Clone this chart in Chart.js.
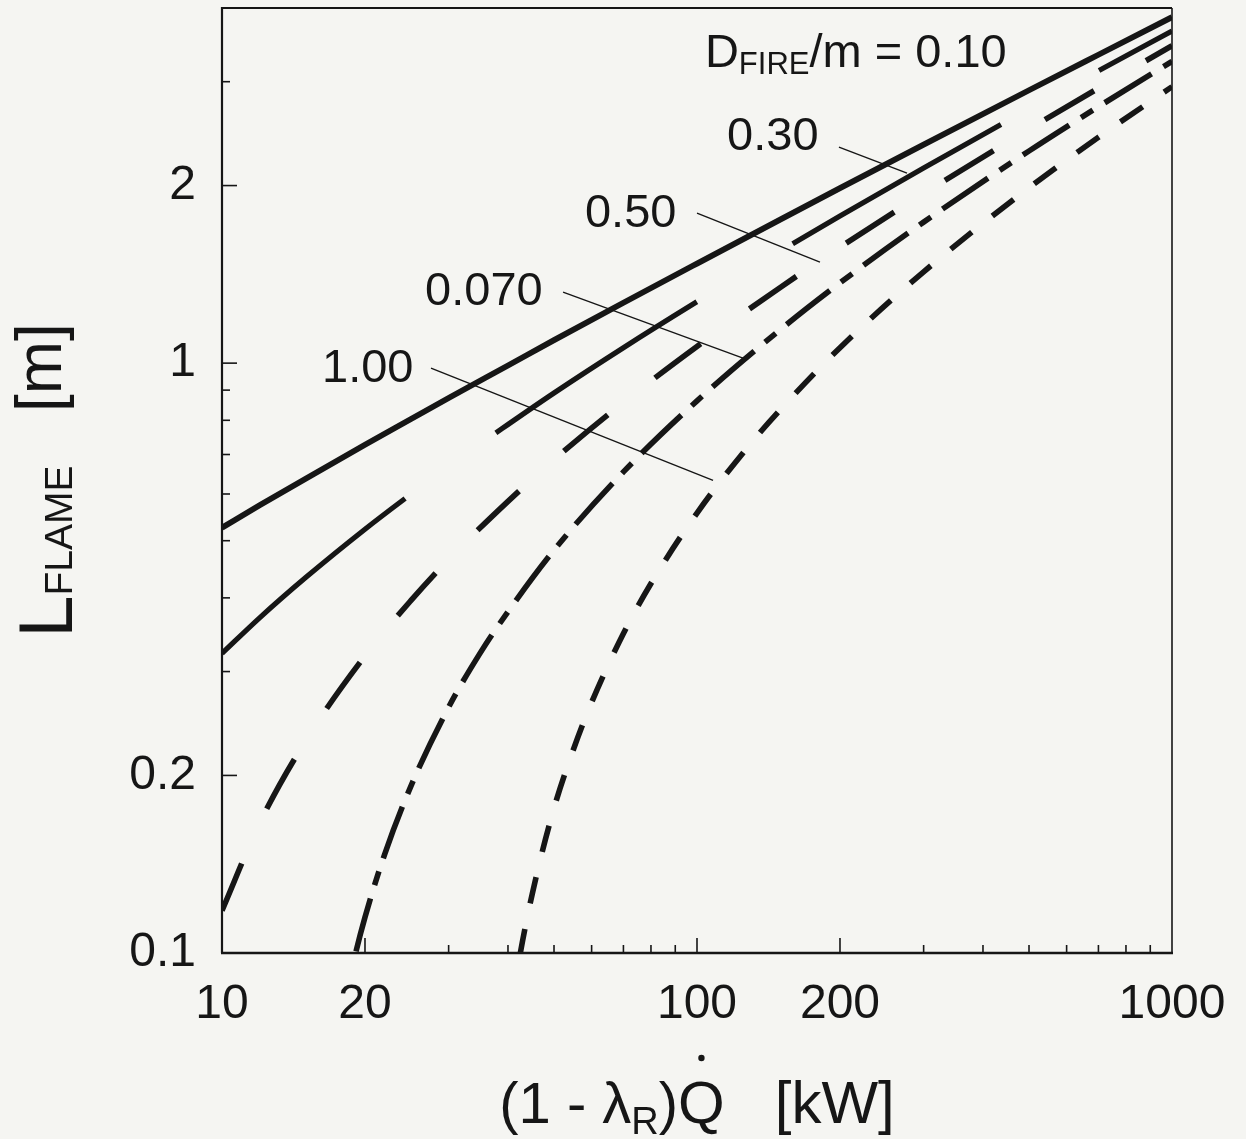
<!DOCTYPE html>
<html>
<head>
<meta charset="utf-8">
<script src="https://cdn.jsdelivr.net/npm/chart.js@4.4.1/dist/chart.umd.min.js"></script>
<style>
  html, body { margin: 0; padding: 0; background: #f5f5f2; }
  #wrap { width: 1246px; height: 1139px; }
</style>
</head>
<body>
<div id="wrap"><canvas id="chart" width="1246" height="1139"></canvas></div>
<script>
// heat release (1 - lambda_R) Q in kW, and flame height in m
const heatRelease = [10, 12, 15, 20, 25, 30, 40, 50, 70, 100, 150, 200, 300, 500, 700, 1000];
const flameD010 = [0.526, 0.574, 0.637, 0.727, 0.804, 0.873, 0.991, 1.094, 1.266, 1.475, 1.753, 1.980, 2.346, 2.901, 3.333, 3.860];
const flameD030 = [0.322, 0.370, 0.433, 0.523, 0.600, 0.669, 0.787, 0.890, 1.062, 1.271, 1.549, 1.776, 2.142, 2.697, 3.129, 3.656];
const flameD050 = [0.118, 0.166, 0.229, 0.319, 0.396, 0.465, 0.583, 0.686, 0.858, 1.067, 1.345, 1.572, 1.938, 2.493, 2.925, 3.452];

const heatReleaseD070 = [18, 19, 20, 22, 25, 30, 35, 40, 50, 70, 100, 150, 200, 300, 500, 700, 1000];
const flameD070 = [0.080, 0.098, 0.115, 0.147, 0.192, 0.261, 0.323, 0.379, 0.482, 0.654, 0.863, 1.141, 1.368, 1.734, 2.289, 2.721, 3.248];

const heatReleaseD100 = [40, 42, 45, 50, 55, 60, 70, 80, 100, 130, 150, 200, 300, 500, 700, 1000];
const flameD100 = [0.073, 0.095, 0.126, 0.176, 0.222, 0.266, 0.348, 0.423, 0.557, 0.732, 0.835, 1.062, 1.428, 1.983, 2.415, 2.942];

// axis ticks
const xTickValues = [10, 20, 30, 40, 50, 60, 70, 80, 90, 100, 200, 300, 400, 500, 600, 700, 800, 900, 1000];
const xLabelValues = [10, 20, 100, 200, 1000];
const yTickValues = [0.1, 0.2, 0.3, 0.4, 0.5, 0.6, 0.7, 0.8, 0.9, 1, 2, 3];
const yLabelValues = [0.1, 0.2, 1, 2];

const ink = '#161616';
const font = '"Liberation Sans", Arial, Helvetica, sans-serif';

// curve labels: text runs anchored at [Q, L] (left, baseline), leaders from/to [Q, L]
const curveLabels = [
  { at: [103.9, 3.175], parts: [{ t: 'D', s: 47 }, { t: 'FIRE', s: 31, dy: 7 }, { t: '/m = 0.10', s: 47 }] },
  { at: [115.7, 2.296], parts: [{ t: '0.30', s: 47 }], leader: [[199.0, 2.323], [276.8, 2.099]] },
  { at: [58.1, 1.700], parts: [{ t: '0.50', s: 47 }], leader: [[100, 1.796], [181.5, 1.483]] },
  { at: [26.76, 1.254], parts: [{ t: '0.070', s: 47 }], leader: [[52.24, 1.319], [125.0, 1.020]] },
  { at: [16.24, 0.9286], parts: [{ t: '1.00', s: 47 }], leader: [[27.54, 0.981], [108.1, 0.633]] }
];

function pts(xs, ys) {
  return xs.map((q, i) => ({ x: q, y: ys[i] }));
}

function drawRun(ctx, parts, x, y) {
  parts.forEach(p => {
    ctx.font = p.s + 'px ' + font;
    ctx.fillText(p.t, x, y + (p.dy || 0));
    x += ctx.measureText(p.t).width;
  });
  return x;
}

function runWidth(ctx, parts) {
  let w = 0;
  parts.forEach(p => {
    ctx.font = p.s + 'px ' + font;
    w += ctx.measureText(p.t).width;
  });
  return w;
}

const decor = {
  id: 'decor',
  beforeDraw(chart) {
    const { ctx, width, height } = chart;
    ctx.save();
    ctx.fillStyle = '#f5f5f2';
    ctx.fillRect(0, 0, width, height);
    ctx.restore();
  },
  afterDraw(chart) {
    const { ctx, chartArea: a, scales: { x, y } } = chart;
    const seg = (w, x1, y1, x2, y2) => {
      ctx.lineWidth = w;
      ctx.beginPath();
      ctx.moveTo(x1, y1);
      ctx.lineTo(x2, y2);
      ctx.stroke();
    };
    ctx.save();
    ctx.strokeStyle = ink;
    ctx.fillStyle = ink;
    ctx.lineCap = 'butt';

    // frame
    seg(2.6, a.left - 1, a.bottom, a.right + 1, a.bottom);
    seg(2.2, a.left, a.top - 1, a.left, a.bottom);
    seg(1.8, a.left, a.top, a.right, a.top);
    seg(1.6, a.right, a.top, a.right, a.bottom);

    // inward ticks
    xTickValues.forEach(v => {
      if (v === 10 || v === 1000) return;
      const px = x.getPixelForValue(v);
      seg(1.6, px, a.bottom, px, a.bottom - (xLabelValues.includes(v) ? 15 : 8));
    });
    yTickValues.forEach(v => {
      if (v === 0.1) return;
      const py = y.getPixelForValue(v);
      seg(1.6, a.left, py, a.left + (yLabelValues.includes(v) ? 15 : 8), py);
    });

    // curve labels and leader lines
    ctx.textBaseline = 'alphabetic';
    ctx.textAlign = 'left';
    curveLabels.forEach(c => {
      drawRun(ctx, c.parts, x.getPixelForValue(c.at[0]), y.getPixelForValue(c.at[1]));
      if (c.leader) {
        const [p, q] = c.leader;
        seg(1.4, x.getPixelForValue(p[0]), y.getPixelForValue(p[1]),
                 x.getPixelForValue(q[0]), y.getPixelForValue(q[1]));
      }
    });

    // x title: (1 - lambda_R) Q-dot  [kW]
    const xt = [{ t: '(1 - λ', s: 58 }, { t: 'R', s: 38, dy: 11 }, { t: ')', s: 58 }];
    const qPart = [{ t: 'Q', s: 60 }];
    const tail = [{ t: '   [kW]', s: 60 }];
    const total = runWidth(ctx, xt) + runWidth(ctx, qPart) + runWidth(ctx, tail);
    const base = 1123;
    let cx = (a.left + a.right) / 2 - total / 2;
    cx = drawRun(ctx, xt, cx, base);
    const qw = runWidth(ctx, qPart);
    drawRun(ctx, qPart, cx, base);
    ctx.beginPath();
    ctx.arc(cx + qw / 2, base - 65, 3.2, 0, Math.PI * 2);
    ctx.fill();
    drawRun(ctx, tail, cx + qw, base);

    // y title: L_FLAME  [m]
    const yt = [{ t: 'L', s: 76 }, { t: 'FLAME', s: 39 }, { t: '   [m]', s: 64, dy: -11 }];
    const yw = runWidth(ctx, yt);
    ctx.translate(72, (a.top + a.bottom) / 2 + yw / 2);
    ctx.rotate(-Math.PI / 2);
    drawRun(ctx, yt, 0, 0);
    ctx.restore();
  }
};

const lineStyle = {
  borderColor: ink,
  pointRadius: 0,
  fill: false,
  cubicInterpolationMode: 'monotone',
  borderCapStyle: 'butt',
  borderJoinStyle: 'round',
  clip: 0
};

new Chart(document.getElementById('chart'), {
  type: 'line',
  data: {
    datasets: [
      { ...lineStyle, label: '0.10', data: pts(heatRelease, flameD010), borderWidth: 5.8 },
      { ...lineStyle, label: '0.30', data: pts(heatRelease, flameD030), borderWidth: 5.2, borderDash: [240, 112] },
      { ...lineStyle, label: '0.50', data: pts(heatRelease, flameD050), borderWidth: 5.6, borderDash: [57, 60], borderDashOffset: 6 },
      { ...lineStyle, label: '0.70', data: pts(heatReleaseD070, flameD070), borderWidth: 5.6, borderDash: [55, 14, 14, 14], borderDashOffset: 37 },
      { ...lineStyle, label: '1.00', data: pts(heatReleaseD100, flameD100), borderWidth: 5.6, borderDash: [27, 26], borderDashOffset: 27 }
    ]
  },
  options: {
    responsive: false,
    animation: false,
    devicePixelRatio: 1,
    layout: { padding: { top: 8, right: 74, bottom: 0, left: 0 } },
    plugins: { legend: { display: false }, tooltip: { enabled: false } },
    scales: {
      x: {
        type: 'logarithmic',
        position: 'bottom',
        min: 10,
        max: 1000,
        grid: { display: false, drawTicks: false },
        border: { display: false },
        afterBuildTicks: s => { s.ticks = xTickValues.map(v => ({ value: v })); },
        afterFit: s => { s.height = 186; s.paddingLeft = 0; s.paddingRight = 0; },
        ticks: {
          autoSkip: false,
          maxRotation: 0,
          padding: 23,
          color: ink,
          font: { family: font, size: 48 },
          callback: v => xLabelValues.includes(v) ? String(v) : null
        }
      },
      y: {
        type: 'logarithmic',
        position: 'left',
        min: 0.1,
        max: 4,
        grid: { display: false, drawTicks: false },
        border: { display: false },
        afterBuildTicks: s => { s.ticks = yTickValues.map(v => ({ value: v })); },
        afterFit: s => { s.width = 222; s.paddingTop = 0; s.paddingBottom = 0; },
        ticks: {
          autoSkip: false,
          padding: 26,
          color: ink,
          font: { family: font, size: 48 },
          callback: v => yLabelValues.includes(v) ? String(v) : null
        }
      }
    }
  },
  plugins: [decor]
});
</script>
</body>
</html>
